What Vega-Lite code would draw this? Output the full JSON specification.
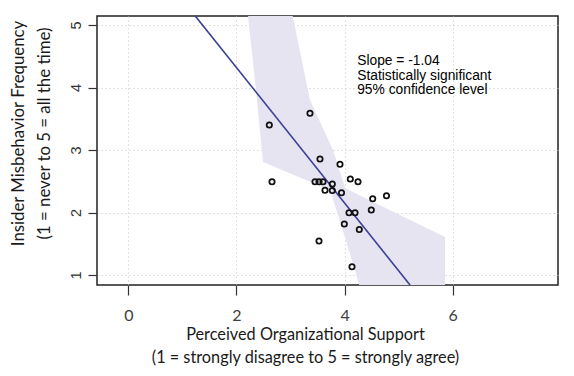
{
  "$schema": "https://vega.github.io/schema/vega-lite/v6.json",
  "width": 461,
  "height": 269,
  "autosize": {"type": "none"},
  "padding": {"left": 97, "top": 16, "right": 16, "bottom": 91},
  "background": "white",
  "config": {
    "view": {"stroke": "#222222", "strokeWidth": 1.5},
    "axis": {"domain": false}
  },
  "datasets": {
    "band": [
      {"x": 2.214, "y": 5.149, "yhi": 5.149},
      {"x": 2.380, "y": 3.80, "yhi": 5.2},
      {"x": 2.491, "y": 2.808, "yhi": 5.2},
      {"x": 3.028, "y": 2.614, "yhi": 5.2},
      {"x": 3.360, "y": 2.494, "yhi": 3.80},
      {"x": 3.730, "y": 2.36, "yhi": 3.104},
      {"x": 3.786, "y": 2.208, "yhi": 3.0},
      {"x": 4.008, "y": 1.60, "yhi": 2.392},
      {"x": 4.285, "y": 0.80, "yhi": 2.274},
      {"x": 5.857, "y": 0.80, "yhi": 1.608}
    ],
    "fit": [
      {"x": 1.234, "y": 5.149},
      {"x": 5.21, "y": 0.84}
    ],
    "obs": [
      {"x": 2.608, "y": 3.40},
      {"x": 3.360, "y": 3.587},
      {"x": 3.545, "y": 2.856},
      {"x": 3.915, "y": 2.771},
      {"x": 2.658, "y": 2.493},
      {"x": 3.453, "y": 2.493},
      {"x": 3.527, "y": 2.493},
      {"x": 3.601, "y": 2.493},
      {"x": 3.773, "y": 2.456},
      {"x": 4.106, "y": 2.536},
      {"x": 4.248, "y": 2.493},
      {"x": 3.638, "y": 2.355},
      {"x": 3.773, "y": 2.352},
      {"x": 3.943, "y": 2.317},
      {"x": 4.520, "y": 2.221},
      {"x": 4.775, "y": 2.269},
      {"x": 4.082, "y": 1.997},
      {"x": 4.193, "y": 1.997},
      {"x": 4.494, "y": 2.04},
      {"x": 3.995, "y": 1.816},
      {"x": 4.272, "y": 1.728},
      {"x": 3.527, "y": 1.544},
      {"x": 4.137, "y": 1.133}
    ],
    "note": [
      {"x": 4.233, "y": 4.36, "label": "Slope = -1.04\nStatistically significant\n95% confidence level"}
    ]
  },
  "encoding": {
    "x": {
      "field": "x",
      "type": "quantitative",
      "scale": {"domain": [-0.579, 7.947], "nice": false, "zero": false},
      "axis": {
        "values": [0, 2, 4, 6],
        "grid": true,
        "gridDash": [1, 3],
        "gridColor": "#c4c4c4",
        "gridWidth": 1,
        "tickSize": 10,
        "tickColor": "#333333",
        "tickWidth": 1.2,
        "labelFont": "Lato",
        "labelFontSize": 16,
        "labelColor": "#404040",
        "labelPadding": 12,
        "labelFlush": false,
        "title": ["Perceived Organizational Support", "(1 = strongly disagree to 5 = strongly agree)"],
        "titleFont": "Lato",
        "titleFontSize": 16.3,
        "titleFontWeight": "normal",
        "titleColor": "#1a1a1a",
        "titleX": 208,
        "titleY": 54,
        "titleAlign": "center",
        "titleAnchor": null,
        "titleBaseline": "alphabetic",
        "titleLineHeight": 23
      }
    },
    "y": {
      "field": "y",
      "type": "quantitative",
      "scale": {"domain": [0.84, 5.144], "nice": false, "zero": false},
      "axis": {
        "values": [1, 2, 3, 4, 5],
        "grid": true,
        "gridDash": [1, 3],
        "gridColor": "#c4c4c4",
        "gridWidth": 1,
        "tickSize": 9,
        "tickColor": "#333333",
        "tickWidth": 1.2,
        "labelFont": "Liberation Sans",
        "labelFontSize": 14.5,
        "labelColor": "#333333",
        "labelAngle": -90,
        "labelAlign": "center",
        "labelBaseline": "bottom",
        "labelPadding": 5,
        "labelFlush": false,
        "title": ["Insider Misbehavior Frequency", "(1 = never to 5 = all the time)"],
        "titleFont": "Lato",
        "titleFontSize": 16.8,
        "titleFontWeight": "normal",
        "titleColor": "#1a1a1a",
        "titleAngle": -90,
        "titleX": -74,
        "titleY": 117,
        "titleAlign": "center",
        "titleAnchor": null,
        "titleBaseline": "alphabetic",
        "titleLineHeight": 26
      }
    }
  },
  "layer": [
    {
      "data": {"name": "band"},
      "mark": {"type": "area", "color": "#e6e4f1", "opacity": 1, "clip": true, "interpolate": "linear"},
      "encoding": {"y2": {"field": "yhi"}}
    },
    {
      "data": {"name": "fit"},
      "mark": {"type": "line", "color": "#3c3f97", "strokeWidth": 1.6, "clip": true},
      "encoding": {}
    },
    {
      "data": {"name": "obs"},
      "mark": {"type": "point", "shape": "circle", "filled": false, "stroke": "#111111", "strokeWidth": 1.8, "size": 28, "opacity": 1}
    },
    {
      "data": {"name": "note"},
      "mark": {"type": "text", "align": "left", "baseline": "alphabetic", "font": "Liberation Sans", "fontSize": 13.8, "color": "#000000", "lineBreak": "\n", "lineHeight": 14.5},
      "encoding": {"text": {"field": "label"}}
    }
  ]
}
